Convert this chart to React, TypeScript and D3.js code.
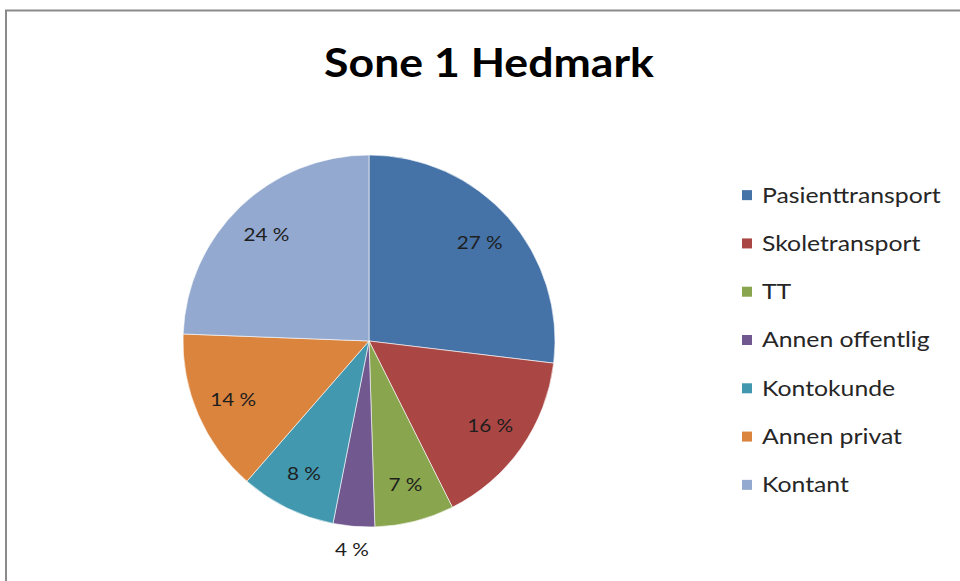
import React from "react";
import * as d3 from "d3";

const title = "Sone 1 Hedmark";
const categories = ["Pasienttransport", "Skoletransport", "TT", "Annen offentlig", "Kontokunde", "Annen privat", "Kontant"];
const values = [26.9, 15.7, 6.9, 3.6, 8.3, 14.2, 24.4];
const colors = ["#4572a7", "#aa4643", "#89a54e", "#71588f", "#4198af", "#db843d", "#93a9cf"];
const outsideLabels = ["Annen offentlig"];

const W = 960;
const H = 581;
const cx = 369;
const cy = 341;
const R = 186;
const labelR = 148;
const font = "Lato, 'Open Sans', sans-serif";
const stretch = 1.15;

export default function App() {
  const data = categories.map((c, i) => ({ name: c, value: values[i], color: colors[i] }));
  const pie = d3.pie<any>().sort(null).value((d) => d.value).startAngle(0).endAngle(2 * Math.PI);
  const arcs = pie(data);
  const arc = d3.arc<any>().innerRadius(0).outerRadius(R);
  const inLabel = d3.arc<any>().innerRadius(labelR).outerRadius(labelR);
  const outLabel = d3.arc<any>().innerRadius(R + 23).outerRadius(R + 23);
  const legendY = d3.scaleBand().domain(categories).range([171, 509]);

  return (
    <svg width={W} height={H} style={{ position: "absolute", left: 0, top: 0, background: "#fff" }}>
      <rect x={0} y={0} width={W} height={H} fill="#fff" />
      <rect x={6} y={10.5} width={W + 20} height={H + 20} fill="none" stroke="#8a8a8a" strokeWidth={2} />
      <g transform={`translate(489,77) scale(1.115,1)`}>
        <text x={0} y={0} textAnchor="middle" fontFamily={font} fontWeight="bold" fontSize={40} fill="#000">
          {title}
        </text>
      </g>
      <g transform={`translate(${cx},${cy})`}>
        {arcs.map((a, i) => (
          <path key={i} d={arc(a) as string} fill={a.data.color} stroke="#fff" strokeWidth={0.6} />
        ))}
        {arcs.map((a, i) => {
          const p = outsideLabels.includes(a.data.name) ? outLabel.centroid(a) : inLabel.centroid(a);
          return (
            <g key={i} transform={`translate(${p[0]},${p[1]}) scale(${stretch},1)`}>
              <text x={0} y={0} dy="0.35em" textAnchor="middle" fontFamily={font} fontSize={18} fill="#1e1e1e">
                {`${Math.round(a.data.value)} %`}
              </text>
            </g>
          );
        })}
      </g>
      {categories.map((c, i) => {
        const y = (legendY(c) as number) + legendY.bandwidth() / 2;
        return (
          <g key={c}>
            <rect x={742} y={y - 5} width={10} height={10} fill={colors[i]} />
            <g transform={`translate(762,${y}) scale(1.18,1)`}>
              <text x={0} y={0} dy="0.35em" fontFamily={font} fontSize={21} fill="#262626">
                {c}
              </text>
            </g>
          </g>
        );
      })}
    </svg>
  );
}
